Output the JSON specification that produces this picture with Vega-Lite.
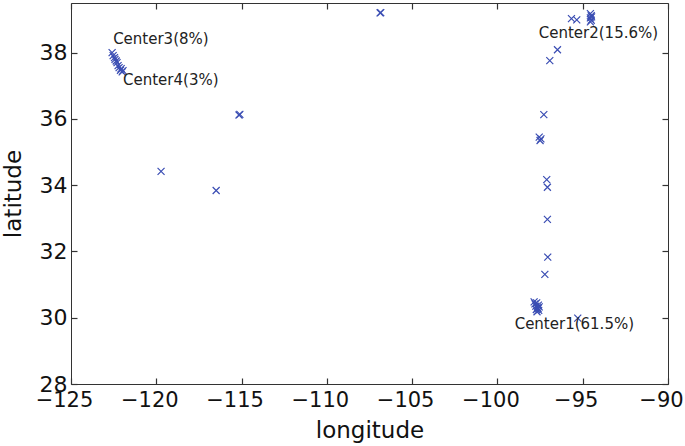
{
  "$schema": "https://vega.github.io/schema/vega-lite/v6.json",
  "autosize": {"type": "none"},
  "padding": {"left": 71, "top": 3, "right": 17, "bottom": 62},
  "width": 597,
  "height": 381,
  "background": "white",
  "config": {
    "view": {"stroke": "#333", "strokeWidth": 1},
    "font": "DejaVu Sans",
    "axis": {
      "grid": false,
      "domain": false,
      "ticks": true,
      "tickColor": "#333",
      "tickSize": 6,
      "tickWidth": 1.2,
      "offset": -6,
      "labelOverlap": false,
      "labelFlush": false,
      "labelFont": "DejaVu Sans",
      "labelFontSize": 22,
      "labelColor": "#111",
      "titleFont": "DejaVu Sans",
      "titleFontSize": 23,
      "titleFontWeight": "normal",
      "titleColor": "#111"
    }
  },
  "datasets": {
    "pts": [
      {"lon": -122.59, "lat": 38.0},
      {"lon": -122.53, "lat": 37.91},
      {"lon": -122.45, "lat": 37.85},
      {"lon": -122.42, "lat": 37.8},
      {"lon": -122.3, "lat": 37.7},
      {"lon": -122.35, "lat": 37.75},
      {"lon": -122.24, "lat": 37.61},
      {"lon": -122.18, "lat": 37.55},
      {"lon": -122.06, "lat": 37.52},
      {"lon": -122.1, "lat": 37.47},
      {"lon": -121.95, "lat": 37.46},
      {"lon": -122.0, "lat": 37.42},
      {"lon": -115.15, "lat": 36.12},
      {"lon": -115.1, "lat": 36.14},
      {"lon": -119.72, "lat": 34.42},
      {"lon": -116.49, "lat": 33.84},
      {"lon": -106.88, "lat": 39.2},
      {"lon": -106.84, "lat": 39.21},
      {"lon": -95.66, "lat": 39.03},
      {"lon": -95.35, "lat": 38.99},
      {"lon": -94.55, "lat": 39.18},
      {"lon": -94.5, "lat": 39.12},
      {"lon": -94.55, "lat": 39.05},
      {"lon": -94.5, "lat": 38.98},
      {"lon": -94.55, "lat": 38.93},
      {"lon": -94.48, "lat": 39.08},
      {"lon": -96.48, "lat": 38.09},
      {"lon": -96.93, "lat": 37.76},
      {"lon": -97.28, "lat": 36.13},
      {"lon": -97.55, "lat": 35.45},
      {"lon": -97.45, "lat": 35.4},
      {"lon": -97.5, "lat": 35.35},
      {"lon": -97.11, "lat": 34.17},
      {"lon": -97.07, "lat": 33.94},
      {"lon": -97.07, "lat": 32.97},
      {"lon": -97.05, "lat": 31.83},
      {"lon": -97.22, "lat": 31.31},
      {"lon": -97.85, "lat": 30.48},
      {"lon": -97.8, "lat": 30.42},
      {"lon": -97.7, "lat": 30.45},
      {"lon": -97.75, "lat": 30.35},
      {"lon": -97.65, "lat": 30.3},
      {"lon": -97.6, "lat": 30.38},
      {"lon": -97.72, "lat": 30.25},
      {"lon": -97.58, "lat": 30.22},
      {"lon": -97.68, "lat": 30.18},
      {"lon": -97.62, "lat": 30.28},
      {"lon": -97.55, "lat": 30.33},
      {"lon": -95.29, "lat": 29.99}
    ],
    "labels": [
      {"lon": -122.53, "lat": 38.42, "text": "Center3(8%)"},
      {"lon": -121.95, "lat": 37.19, "text": "Center4(3%)"},
      {"lon": -97.58, "lat": 38.6, "text": "Center2(15.6%)"},
      {"lon": -98.99, "lat": 29.81, "text": "Center1(61.5%)"}
    ]
  },
  "resolve": {"axis": {"x": "independent", "y": "independent"}},
  "layer": [
    {
      "data": {"name": "pts"},
      "mark": {
        "type": "point",
        "shape": "M-1,-1L1,1M-1,1L1,-1",
        "filled": false,
        "size": 49,
        "strokeWidth": 1.2,
        "color": "#3a4db3",
        "opacity": 1
      },
      "encoding": {
        "x": {
          "field": "lon", "type": "quantitative",
          "scale": {"domain": [-125, -90], "nice": false, "zero": false},
          "axis": {
            "orient": "bottom", "title": "longitude",
            "values": [-125, -120, -115, -110, -105, -100, -95, -90],
            "labelPadding": 5, "titlePadding": 9, "labelOffset": -7, "labelFontSize": 21
          }
        },
        "y": {
          "field": "lat", "type": "quantitative",
          "scale": {"domain": [28, 39.5], "nice": false, "zero": false},
          "axis": {"orient": "left", "title": "latitude", "values": [28, 30, 32, 34, 36, 38], "labelPadding": 4, "titlePadding": 14}
        }
      }
    },
    {
      "data": {"name": "labels"},
      "mark": {"type": "text", "align": "left", "baseline": "middle", "fontSize": 15, "color": "#222", "font": "DejaVu Sans"},
      "encoding": {
        "x": {
          "field": "lon", "type": "quantitative",
          "axis": {"orient": "top", "title": null, "labels": false, "values": [-125, -120, -115, -110, -105, -100, -95, -90]}
        },
        "y": {
          "field": "lat", "type": "quantitative",
          "axis": {"orient": "right", "title": null, "labels": false, "values": [28, 30, 32, 34, 36, 38]}
        },
        "text": {"field": "text"}
      }
    }
  ]
}
